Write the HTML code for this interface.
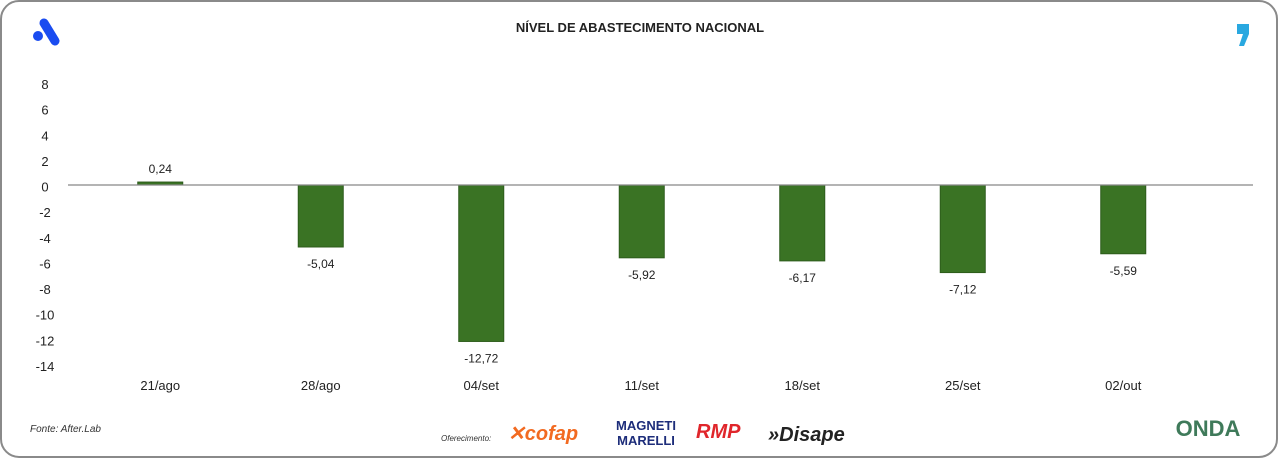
<!DOCTYPE html>
<html><head><meta charset="utf-8">
<style>
html,body{margin:0;padding:0;background:#fff;}
body{width:1280px;height:460px;overflow:hidden;font-family:"Liberation Sans",sans-serif;}
svg text{font-family:"Liberation Sans",sans-serif;}
</style></head>
<body>
<svg id="chart" width="1280" height="460" xmlns="http://www.w3.org/2000/svg">
  <rect x="1" y="1" width="1276" height="456" rx="18" ry="18" fill="#fff" stroke="#8a8a8a" stroke-width="2"/>
  <g>
    <circle cx="38" cy="36" r="5" fill="#1a4cf0"/>
    <line x1="44" y1="23" x2="55" y2="41" stroke="#1a4cf0" stroke-width="9" stroke-linecap="round"/>
  </g>
  <text x="640" y="32" text-anchor="middle" font-size="13" font-weight="bold" fill="#222">NÍVEL DE ABASTECIMENTO NACIONAL</text>
  <g>
    <rect x="1237" y="24" width="12" height="10" fill="#29a8e0"/>
    <path d="M1243 34 L1249 34 L1244 46 L1239 46 Z" fill="#29a8e0"/>
  </g>
  <g id="yaxis"></g>
  <g id="bars"></g>
  <g id="xaxis"></g>
  <line id="zero" stroke="#888" stroke-width="1.2"/>
  <text x="30" y="432" font-size="10" font-style="italic" fill="#333">Fonte: After.Lab</text>
  <g>
    <text x="441" y="441" font-size="8" font-style="italic" fill="#333">Oferecimento:</text>
    <text x="508" y="440" font-size="20" font-weight="bold" font-style="italic" fill="#f26a21">✕cofap</text>
    <text x="646" y="430" font-size="13" font-weight="bold" fill="#1d2d7a" text-anchor="middle">MAGNETI</text>
    <text x="646" y="445" font-size="13" font-weight="bold" fill="#1d2d7a" text-anchor="middle">MARELLI</text>
    <text x="696" y="438" font-size="20" font-weight="bold" font-style="italic" fill="#e0262b">RMP</text>
    <text x="768" y="441" font-size="20" font-weight="bold" font-style="italic" fill="#222">»Disape</text>
    <text x="1208" y="436" font-size="22" font-weight="bold" fill="#3f7a5a" text-anchor="middle">ONDA</text>
  </g>
</svg>
<script>
const categories = ["21/ago","28/ago","04/set","11/set","18/set","25/set","02/out"];
const values = [0.24,-5.04,-12.72,-5.92,-6.17,-7.12,-5.59];
const valueLabels = ["0,24","-5,04","-12,72","-5,92","-6,17","-7,12","-5,59"];
const yTicks = [8,6,4,2,0,-2,-4,-6,-8,-10,-12,-14];
const yTickLabels = ["8","6","4","2","0","-2","-4","-6","-8","-10","-12","-14"];

const NS="http://www.w3.org/2000/svg";
const tickTop=84,tickBot=366,yMax=8,yMin=-14;
function yTick(v){return tickTop+(yMax-v)*(tickBot-tickTop)/(yMax-yMin);}
const zeroY=185,pxPerUnit=12.3;
function y(v){return zeroY-v*pxPerUnit;}
const x0=80,step=160.5;
function x(i){return x0+step*(i+0.5);}
const bw=45;
function mk(tag,attrs,parent){const e=document.createElementNS(NS,tag);for(const k in attrs)e.setAttribute(k,attrs[k]);parent.appendChild(e);return e;}
const ya=document.getElementById('yaxis'),ba=document.getElementById('bars'),xa=document.getElementById('xaxis');
yTicks.forEach((t,i)=>{
  const e=mk('text',{x:45,y:yTick(t)+5,'text-anchor':'middle','font-size':13,fill:'#222'},ya);
  e.textContent=yTickLabels[i];
  
  
});
values.forEach((v,i)=>{
  const top=Math.min(y(v),y(0)),h=Math.abs(y(v)-y(0));
  const r=mk('rect',{x:x(i)-bw/2,y:top,width:bw,height:h,fill:'#3a7324',stroke:'#2d5c1b','stroke-width':1},ba);
  
  
  const ly=v>=0?y(v)-9:y(v)+21;
  const t=mk('text',{x:x(i),y:ly,'text-anchor':'middle','font-size':12,fill:'#222'},ba);
  t.textContent=valueLabels[i];
  
  
  const c=mk('text',{x:x(i),y:390,'text-anchor':'middle','font-size':13,fill:'#222'},xa);
  c.textContent=categories[i];
  
  
});
const z=document.getElementById('zero');
z.setAttribute('x1',68);z.setAttribute('x2',1253);z.setAttribute('y1',y(0));z.setAttribute('y2',y(0));
</script>
</body></html>
